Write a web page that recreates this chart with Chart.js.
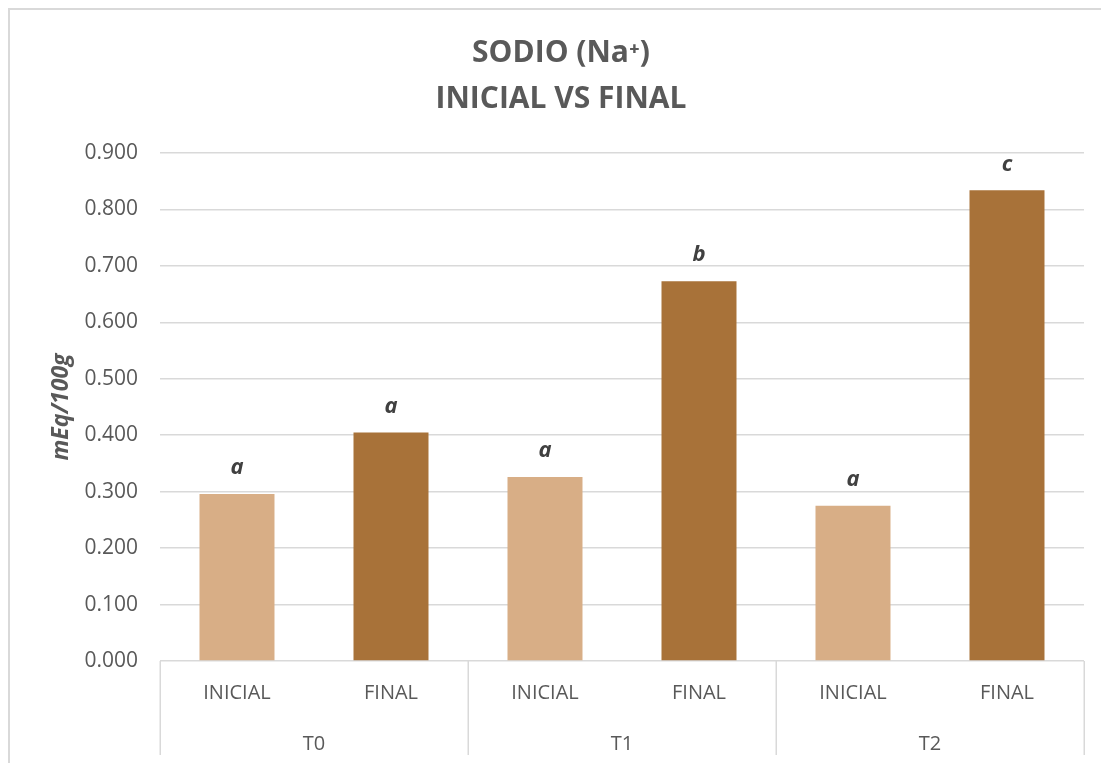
<!DOCTYPE html>
<html>
<head>
<meta charset="utf-8">
<script src="https://cdn.jsdelivr.net/npm/chart.js@4/dist/chart.umd.min.js"></script>
<style>
  html, body { margin: 0; padding: 0; background: #ffffff; }
  #wrap { position: relative; width: 1101px; height: 763px; }
</style>
</head>
<body>
<div id="wrap"><canvas id="c" width="1101" height="763"></canvas></div>
<script>
// Sodium content (mEq/100g), initial vs final, per treatment
const treatments = ['T0', 'T1', 'T2'];
const stages = ['INICIAL', 'FINAL'];
const inicial = [0.296, 0.326, 0.275];
const final = [0.405, 0.673, 0.834];
const letters = ['a', 'a', 'a', 'b', 'a', 'c'];
const yTicks = [0, 0.1, 0.2, 0.3, 0.4, 0.5, 0.6, 0.7, 0.8, 0.9];

const colInicial = '#D8AE86';
const colFinal = '#A87239';
const textCol = '#595959';
const gridCol = '#d9d9d9';
const FONT = "'Open Sans', 'DejaVu Sans', sans-serif";

// flatten into one bar per (treatment, stage)
const labels = [];
const values = [];
const colors = [];
treatments.forEach((t, i) => {
  labels.push(stages[0]); values.push(inicial[i]); colors.push(colInicial);
  labels.push(stages[1]); values.push(final[i]); colors.push(colFinal);
});

// outer frame of the chart
const framePlugin = {
  id: 'frame',
  beforeDraw(chart) {
    const ctx = chart.ctx;
    ctx.save();
    ctx.strokeStyle = gridCol;
    ctx.lineWidth = 2;
    ctx.beginPath();
    ctx.moveTo(9, chart.height);
    ctx.lineTo(9, 9);
    ctx.lineTo(chart.width, 9);
    ctx.stroke();
    ctx.restore();
  }
};

// vertical separators of the two-level category axis
const groupLinesPlugin = {
  id: 'groupLines',
  afterDraw(chart) {
    const x = chart.scales.x;
    const ctx = chart.ctx;
    const bottom = chart.chartArea.bottom;
    const xs = [chart.chartArea.left];
    for (let g = 1; g < treatments.length; g++) {
      const k = g * stages.length;
      xs.push((x.getPixelForValue(k - 1) + x.getPixelForValue(k)) / 2);
    }
    xs.push(chart.chartArea.right);
    ctx.save();
    ctx.strokeStyle = gridCol;
    ctx.lineWidth = 1.5;
    xs.forEach(px => {
      const xx = Math.round(px) + 0.25;
      ctx.beginPath();
      ctx.moveTo(xx, bottom);
      ctx.lineTo(xx, bottom + 94);
      ctx.stroke();
    });
    ctx.restore();
  }
};

// significance letters above each bar
const lettersPlugin = {
  id: 'letters',
  afterDatasetsDraw(chart) {
    const meta = chart.getDatasetMeta(0);
    const ctx = chart.ctx;
    ctx.save();
    ctx.font = "italic bold 22px " + FONT;
    ctx.fillStyle = '#404040';
    ctx.textAlign = 'center';
    ctx.textBaseline = 'middle';
    meta.data.forEach((bar, i) => {
      ctx.fillText(letters[i], bar.x, bar.y - 26);
    });
    ctx.restore();
  }
};

new Chart(document.getElementById('c'), {
  type: 'bar',
  data: {
    labels: labels,
    datasets: [{
      data: values,
      backgroundColor: colors,
      borderWidth: 0,
      barPercentage: 0.487,
      categoryPercentage: 1.0
    }]
  },
  options: {
    responsive: false,
    animation: false,
    devicePixelRatio: 1,
    layout: { padding: { top: 10, right: 17, bottom: 0, left: 38 } },
    plugins: {
      legend: { display: false },
      tooltip: { enabled: false },
      title: {
        display: true,
        text: ['SODIO (Na\u207A)', 'INICIAL VS FINAL'],
        color: textCol,
        font: { family: FONT, size: 30, weight: 'bold', lineHeight: 1.54 },
        padding: { top: 20, bottom: 30.6 }
      }
    },
    scales: {
      x: {
        type: 'category',
        position: 'bottom',
        weight: 0,
        grid: { display: false },
        border: { display: false },
        ticks: { color: textCol, font: { family: FONT, size: 20 }, padding: 12, maxRotation: 0, autoSkip: false },
        afterFit(scale) { scale.height = 55; }
      },
      x2: {
        type: 'category',
        position: 'bottom',
        weight: 1,
        labels: treatments,
        offset: true,
        grid: { display: false },
        border: { display: false },
        ticks: { color: textCol, font: { family: FONT, size: 20 }, padding: 8, maxRotation: 0 },
        afterFit(scale) { scale.height = 47; }
      },
      y: {
        min: 0,
        max: 0.9,
        afterBuildTicks(scale) { scale.ticks = yTicks.map(v => ({ value: v })); },
        grid: { color: gridCol, lineWidth: 1.5, drawTicks: false },
        border: { display: false },
        ticks: {
          color: textCol,
          font: { family: FONT, size: 21 },
          padding: 22,
          callback: v => Number(v).toFixed(3)
        },
        title: {
          display: true,
          text: 'mEq/100g',
          color: textCol,
          font: { family: FONT, size: 23, weight: 'bold', style: 'italic' },
          padding: { top: 10, bottom: 0 }
        },
        afterFit(scale) { scale.width = 122; }
      }
    }
  },
  plugins: [framePlugin, groupLinesPlugin, lettersPlugin]
});
</script>
</body>
</html>
